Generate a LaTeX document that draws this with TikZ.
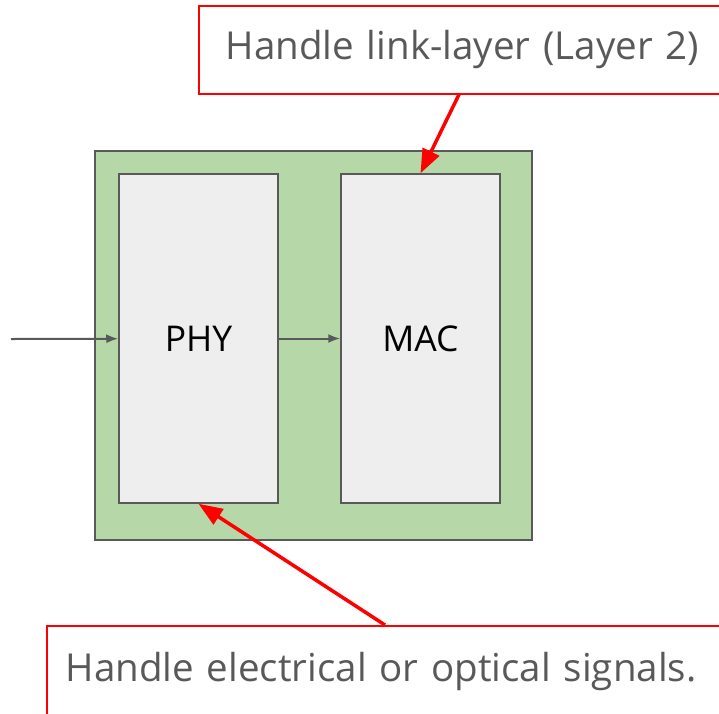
\documentclass[tikz,border=0pt]{standalone}
\usepackage{fontspec}
\setmainfont{Open Sans}
\usetikzlibrary{arrows.meta}
\definecolor{boardgreen}{HTML}{B6D7A8}
\definecolor{blockgray}{HTML}{EEEEEE}
\definecolor{edgegray}{HTML}{595959}
\definecolor{notetext}{HTML}{595959}
\definecolor{notered}{HTML}{FF0000}
\begin{document}
\begin{tikzpicture}[x=1pt,y=-1pt,
  block/.style={draw=edgegray, line width=1.5pt, fill=blockgray, minimum width=159pt, minimum height=329pt, font=\fontsize{35.5}{42}\selectfont},
  note/.style={draw=notered, line width=1.5pt, fill=white, anchor=north west, align=left, text=notetext, font=\fontsize{38.5}{46}\selectfont},
  flow/.style={draw=edgegray, line width=2pt, -{Latex[length=12pt,width=9pt]}},
  pointer/.style={draw=notered, line width=3.5pt, -{Triangle[length=24pt,width=18pt]}}]
\useasboundingbox (0,0) rectangle (719,713);
\clip (0,0) rectangle (719,713);
\node[draw=edgegray, line width=1.5pt, fill=boardgreen, minimum width=437pt, minimum height=389pt] (board) at (313.5,345.5) {};
\node[block] (phy) at (198.5,338.5) {PHY};
\node[block] (mac) at (420.5,338.5) {MAC};
\coordinate (wire) at (11,339);
\draw[flow] (wire) -- (phy);
\draw[flow] (phy) -- (mac);
\node[note, text width=491pt, inner xsep=27pt, minimum height=88pt] (linknote) at (198,5) {Handle link-layer (Layer 2)};
\node[note, text width=660pt, inner xsep=19pt, minimum height=92pt] (signote) at (46,625) {Handle electrical or optical signals.};
\draw[pointer] ([xshift=261pt]linknote.south west) -- (mac.north);
\draw[pointer] ([xshift=339pt]signote.north west) -- (phy.south);
\end{tikzpicture}
\end{document}
